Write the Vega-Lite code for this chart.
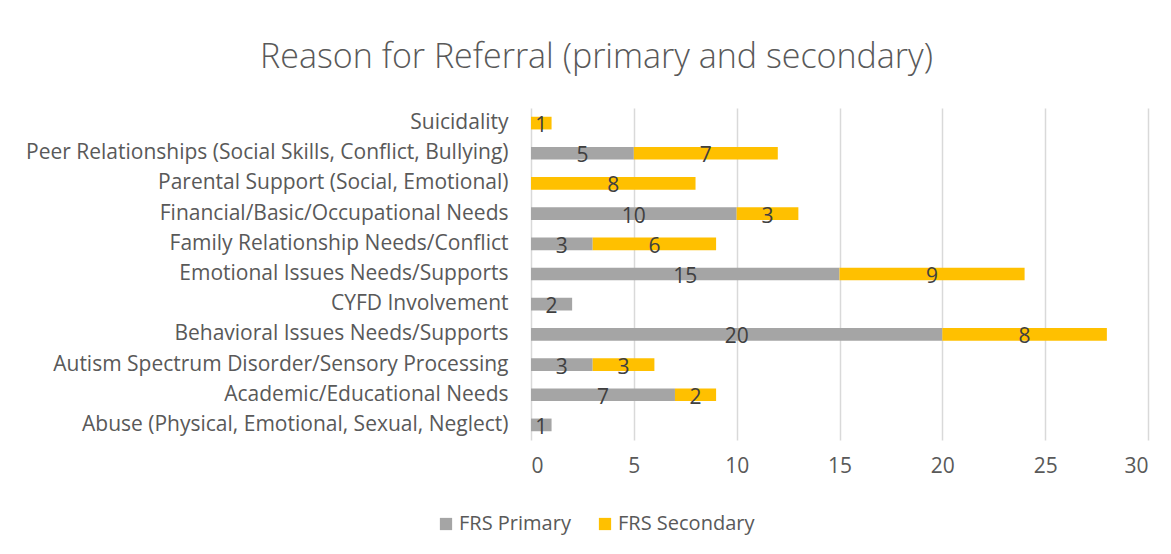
{
  "$schema": "https://vega.github.io/schema/vega-lite/v6.json",
  "width": 617,
  "height": 332,
  "autosize": "none",
  "padding": {"left": 531, "top": 108, "right": 23, "bottom": 114},
  "background": "white",
  "config": {
    "font": "Open Sans",
    "view": {"stroke": null}
  },
  "title": {
    "text": "Reason for Referral (primary and secondary)",
    "fontSize": 34,
    "font": "Open Sans",
    "fontWeight": 300,
    "color": "#595959",
    "anchor": "middle",
    "dx": -243,
    "offset": 33
  },
  "data": {
    "values": [
      {"reason": "Suicidality", "series": "FRS Secondary", "order": 2, "count": 1},
      {"reason": "Peer Relationships (Social Skills, Conflict, Bullying)", "series": "FRS Primary", "order": 1, "count": 5},
      {"reason": "Peer Relationships (Social Skills, Conflict, Bullying)", "series": "FRS Secondary", "order": 2, "count": 7},
      {"reason": "Parental Support (Social, Emotional)", "series": "FRS Secondary", "order": 2, "count": 8},
      {"reason": "Financial/Basic/Occupational Needs", "series": "FRS Primary", "order": 1, "count": 10},
      {"reason": "Financial/Basic/Occupational Needs", "series": "FRS Secondary", "order": 2, "count": 3},
      {"reason": "Family Relationship Needs/Conflict", "series": "FRS Primary", "order": 1, "count": 3},
      {"reason": "Family Relationship Needs/Conflict", "series": "FRS Secondary", "order": 2, "count": 6},
      {"reason": "Emotional Issues Needs/Supports", "series": "FRS Primary", "order": 1, "count": 15},
      {"reason": "Emotional Issues Needs/Supports", "series": "FRS Secondary", "order": 2, "count": 9},
      {"reason": "CYFD Involvement", "series": "FRS Primary", "order": 1, "count": 2},
      {"reason": "Behavioral Issues Needs/Supports", "series": "FRS Primary", "order": 1, "count": 20},
      {"reason": "Behavioral Issues Needs/Supports", "series": "FRS Secondary", "order": 2, "count": 8},
      {"reason": "Autism Spectrum Disorder/Sensory Processing", "series": "FRS Primary", "order": 1, "count": 3},
      {"reason": "Autism Spectrum Disorder/Sensory Processing", "series": "FRS Secondary", "order": 2, "count": 3},
      {"reason": "Academic/Educational Needs", "series": "FRS Primary", "order": 1, "count": 7},
      {"reason": "Academic/Educational Needs", "series": "FRS Secondary", "order": 2, "count": 2},
      {"reason": "Abuse (Physical, Emotional, Sexual, Neglect)", "series": "FRS Primary", "order": 1, "count": 1}
    ]
  },
  "transform": [
    {"stack": "count", "groupby": ["reason"], "sort": [{"field": "order", "order": "ascending"}], "as": ["x0", "x1"]},
    {"calculate": "(datum.x0 + datum.x1) / 2", "as": "mid"}
  ],
  "encoding": {
    "y": {
      "field": "reason",
      "type": "nominal",
      "sort": [
        "Suicidality",
        "Peer Relationships (Social Skills, Conflict, Bullying)",
        "Parental Support (Social, Emotional)",
        "Financial/Basic/Occupational Needs",
        "Family Relationship Needs/Conflict",
        "Emotional Issues Needs/Supports",
        "CYFD Involvement",
        "Behavioral Issues Needs/Supports",
        "Autism Spectrum Disorder/Sensory Processing",
        "Academic/Educational Needs",
        "Abuse (Physical, Emotional, Sexual, Neglect)"
      ],
      "scale": {"paddingInner": 0.58, "paddingOuter": 0.29},
      "axis": {
        "title": null,
        "ticks": false,
        "domain": false,
        "labelFontSize": 21,
        "labelColor": "#595959",
        "labelPadding": 23,
        "labelLimit": 600,
        "labelFont": "Open Sans"
      }
    }
  },
  "layer": [
    {
      "mark": {"type": "bar"},
      "encoding": {
        "x": {
          "field": "x0",
          "type": "quantitative",
          "scale": {"domain": [0, 30]},
          "axis": {
            "title": null,
            "values": [0, 5, 10, 15, 20, 25, 30],
            "ticks": false,
            "domain": false,
            "grid": true,
            "gridColor": "#D9D9D9",
            "gridWidth": 1.5,
            "labelFontSize": 21,
            "labelColor": "#595959",
            "labelPadding": 15,
            "labelFont": "Open Sans"
          }
        },
        "x2": {"field": "x1"},
        "color": {
          "field": "series",
          "type": "nominal",
          "scale": {"domain": ["FRS Primary", "FRS Secondary"], "range": ["#A5A5A5", "#FFC000"]},
          "legend": {
            "title": null,
            "orient": "none",
            "direction": "horizontal",
            "legendX": -95,
            "legendY": 406,
            "symbolType": "square",
            "symbolSize": 150,
            "symbolStrokeWidth": 0,
            "labelFontSize": 20,
            "labelColor": "#595959",
            "labelFont": "Open Sans",
            "columnPadding": 24,
            "labelOffset": 3
          }
        }
      }
    },
    {
      "mark": {"type": "text", "fontSize": 21, "color": "#404040", "font": "Open Sans", "baseline": "middle", "dy": 3},
      "encoding": {
        "x": {"field": "mid", "type": "quantitative"},
        "text": {"field": "count", "type": "quantitative"}
      }
    }
  ]
}
